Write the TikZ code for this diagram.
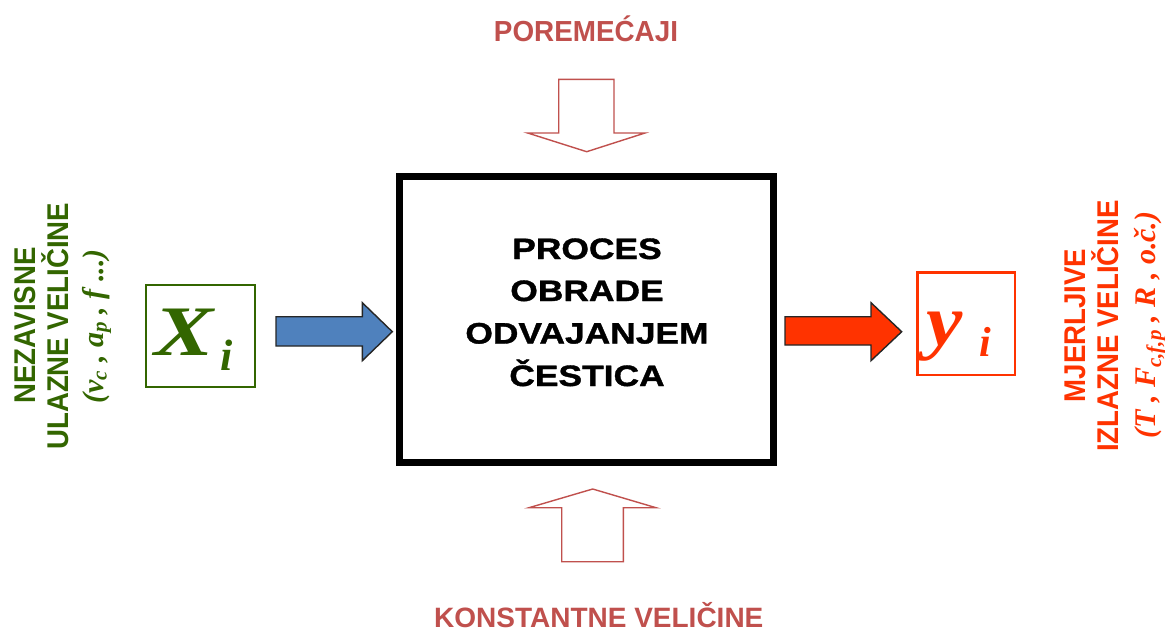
\documentclass[tikz,border=0pt]{standalone}
\usepackage{fontspec}
\setmainfont{Liberation Serif}
\newfontfamily\sansW[FakeStretch=1.2,FakeBold=1.3]{Liberation Sans}
\newfontfamily\sansN[FakeStretch=0.96]{Liberation Sans}
\newfontfamily\sansR[FakeStretch=0.92]{Liberation Sans}
\newfontfamily\sansP{Liberation Sans}
\newfontfamily\serifW[FakeStretch=1.25]{Liberation Serif}
\newfontfamily\serifY[FakeStretch=1.12]{Liberation Serif}
\definecolor{titred}{HTML}{C0504D}
\definecolor{dgreen}{HTML}{336600}
\definecolor{ored}{HTML}{FF3300}
\definecolor{bluearr}{HTML}{4F81BD}
\begin{document}
\begin{tikzpicture}[x=1pt,y=-1pt,
  every node/.style={inner sep=0pt,outer sep=0pt},
  hollowarrow/.style={draw=titred,line width=1.4pt,fill=white,line join=miter},
  solidarrow/.style={draw=black!85,line width=1.4pt,line join=miter},
  toplabel/.style={text=titred,anchor=base},
  proctext/.style={anchor=base,font=\sansW\bfseries\fontsize{29.5}{29.5}\selectfont},
  sidelabel/.style={rotate=90,anchor=base,font=\sansR\bfseries\fontsize{30}{30}\selectfont},
  sideital/.style={rotate=90,anchor=base,font=\bfseries\itshape\fontsize{30}{30}\selectfont}]
\useasboundingbox (0,0) rectangle (1165,633);
\fill[white] (0,0) rectangle (1165,633);

% main process box
\node[draw,line width=6.7pt,minimum width=374pt,minimum height=285.6pt] (proc) at (586.3,319.5) {};
\node[proctext] (l1) at (587,259) {PROCES};
\node[proctext] (l2) at (587,301) {OBRADE};
\node[proctext] (l3) at (587,343.5) {ODVAJANJEM};
\node[proctext] (l4) at (587,386) {ČESTICA};

% top / bottom labels
\node[toplabel,font=\sansN\bfseries\fontsize{29}{29}\selectfont] (dist) at (586,41) {POREMEĆAJI};
\node[toplabel,font=\sansP\bfseries\fontsize{28}{28}\selectfont] (const) at (598.8,627) {KONSTANTNE VELIČINE};

% hollow arrows
\draw[hollowarrow] (558.7,79.3) -- (614,79.3) -- (614,133) -- (645,133) -- (586.7,151.7) -- (527.7,133) -- (558.7,133) -- cycle;
\draw[hollowarrow] (561.7,561.7) -- (623.3,561.7) -- (623.3,507.7) -- (656,507.7) -- (592.7,489) -- (529,507.7) -- (561.7,507.7) -- cycle;

% input / output arrows
\draw[solidarrow,fill=bluearr] (276,316.7) -- (362.3,316.7) -- (362.3,302.7) -- (392.3,331.7) -- (362.3,360.7) -- (362.3,346) -- (276,346) -- cycle;
\draw[solidarrow,fill=ored] (785,316.7) -- (871,316.7) -- (871,302.7) -- (901.7,331.7) -- (871,360.7) -- (871,345) -- (785,345) -- cycle;

% X_i box
\node[draw=dgreen,line width=2pt,minimum width=109.3pt,minimum height=101.7pt] (xbox) at (200.35,335.85) {};
\node[anchor=base west,text=dgreen,font=\serifW\bfseries\itshape\fontsize{71}{71}\selectfont] (xsym) at (154,355) {X};
\node[anchor=base west,text=dgreen,font=\bfseries\itshape\fontsize{44}{44}\selectfont] (xsub) at (220,370) {i};

% y_i box
\node[draw=ored,line width=2.5pt,minimum width=97.7pt,minimum height=102.3pt] (ybox) at (966.15,323.85) {};
\node[anchor=base west,text=ored,font=\serifY\bfseries\itshape\fontsize{73}{73}\selectfont] (ysym) at (926,345) {y};
\node[anchor=base west,text=ored,font=\bfseries\itshape\fontsize{42}{42}\selectfont] (ysub) at (979,356) {i};

% left rotated labels
\node[sidelabel,text=dgreen] (in1) at (35,325.5) {NEZAVISNE};
\node[sidelabel,text=dgreen] (in2) at (68.3,326.2) {ULAZNE VELIČINE};
\node[sideital,text=dgreen] (in3) at (103,326.5) {(v\textsubscript{c} , a\textsubscript{p} , f ...)};

% right rotated labels
\node[sidelabel,text=ored] (out1) at (1085,325.5) {MJERLJIVE};
\node[sidelabel,text=ored] (out2) at (1118.3,326) {IZLAZNE VELIČINE};
\node[sideital,text=ored] (out3) at (1155,325) {(T , F\textsubscript{c,f,p} , R , o.č.)};
\end{tikzpicture}
\end{document}
